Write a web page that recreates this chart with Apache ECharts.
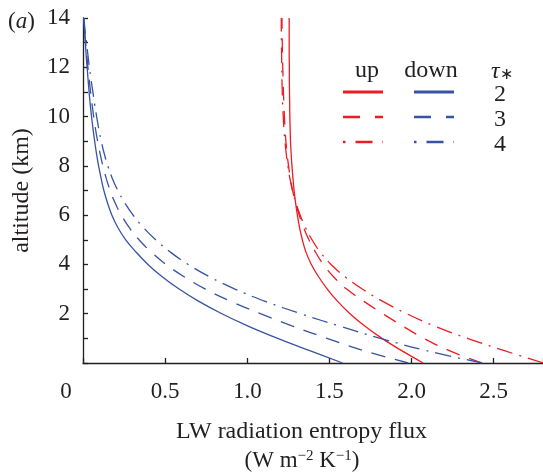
<!DOCTYPE html>
<html>
<head>
<meta charset="utf-8">
<script src="https://cdn.jsdelivr.net/npm/echarts@6/dist/echarts.min.js"></script>
<style>
html,body{margin:0;padding:0;background:#fff;}
#chart{width:543px;height:475px;}
</style>
</head>
<body>
<div id="chart"></div>
<script>
// altitude (km) at which each flux value was read
const altitude = [0, 0.5, 1, 1.5, 2, 2.5, 3, 3.5, 4, 4.5, 5, 5.5, 6, 6.5, 7, 7.5, 8, 8.5, 9, 9.5, 10, 10.5, 11, 11.5, 12, 12.5, 13, 13.5, 14];
// upward LW entropy flux, tau* = 2, 3, 4
const upT2 = [2.07, 1.94, 1.82, 1.715, 1.625, 1.55, 1.487, 1.434, 1.39, 1.357, 1.335, 1.318, 1.305, 1.294, 1.285, 1.278, 1.272, 1.267, 1.263, 1.261, 1.259, 1.258, 1.257, 1.256, 1.256, 1.255, 1.255, 1.255, 1.255];
const upT3 = [2.43, 2.23, 2.075, 1.945, 1.825, 1.71, 1.605, 1.525, 1.463, 1.415, 1.375, 1.343, 1.316, 1.294, 1.276, 1.262, 1.251, 1.242, 1.235, 1.23, 1.226, 1.223, 1.22, 1.218, 1.216, 1.214, 1.213, 1.212, 1.211];
const upT4 = [2.80, 2.565, 2.34, 2.14, 1.97, 1.825, 1.70, 1.595, 1.51, 1.444, 1.394, 1.354, 1.322, 1.296, 1.275, 1.259, 1.247, 1.237, 1.229, 1.223, 1.219, 1.215, 1.213, 1.211, 1.21, 1.209, 1.208, 1.207, 1.207];
// downward LW entropy flux, tau* = 2, 3, 4
const downT2 = [1.58, 1.38, 1.185, 1.005, 0.845, 0.705, 0.585, 0.482, 0.395, 0.323, 0.26, 0.212, 0.176, 0.149, 0.127, 0.11, 0.095, 0.082, 0.071, 0.061, 0.052, 0.044, 0.037, 0.031, 0.025, 0.019, 0.014, 0.009, 0.004];
const downT3 = [1.98, 1.71, 1.485, 1.275, 1.08, 0.90, 0.745, 0.615, 0.505, 0.415, 0.341, 0.281, 0.233, 0.195, 0.165, 0.141, 0.121, 0.104, 0.089, 0.076, 0.065, 0.055, 0.046, 0.038, 0.03, 0.023, 0.016, 0.01, 0.004];
const downT4 = [2.43, 2.09, 1.81, 1.56, 1.325, 1.11, 0.925, 0.77, 0.64, 0.532, 0.442, 0.367, 0.305, 0.254, 0.212, 0.178, 0.151, 0.129, 0.111, 0.096, 0.083, 0.071, 0.06, 0.049, 0.039, 0.03, 0.021, 0.013, 0.005];
const tauLabels = ['2', '3', '4'];
const xTicks = [0, 0.5, 1.0, 1.5, 2.0, 2.5];

const RED = '#ed1c24', BLUE = '#3953a4', INK = '#231f20';
const FONT = '"Liberation Serif", "Times New Roman", serif';
const DASH = [14, 10];
const DASHDOT = [16, 7, 2, 7];

function pts(xs) { return altitude.map((a, i) => [xs[i], a]); }
function mk(name, xs, color, type) {
  return {
    name, type: 'line', data: pts(xs), showSymbol: false, symbol: 'none',
    smooth: 0.4, clip: true,
    lineStyle: { color, width: 1.3, type }
  };
}

const chart = echarts.init(document.getElementById('chart'), null, { renderer: 'canvas' });

// legend drawing (decoration)
const legendRows = [92, 117, 142];
const legendDash = [null, [17, 15], [2.5, 10, 17, 10]];
const g = [];
legendRows.forEach((y, i) => {
  [[343, RED], [414, BLUE]].forEach(([x0, c]) => {
    g.push({ type: 'line', shape: { x1: x0, y1: y, x2: x0 + 40, y2: y },
      style: { stroke: c, lineWidth: i === 0 ? 3 : 2.5, lineDash: legendDash[i] } });
  });
  g.push({ type: 'text', x: 500, y: y + 3, style: { text: tauLabels[i], font: '24px ' + FONT, fill: INK, align: 'center', verticalAlign: 'middle' } });
});
g.push({ type: 'text', x: 367, y: 71, style: { text: 'up', font: '24px ' + FONT, fill: INK, align: 'center', verticalAlign: 'middle' } });
g.push({ type: 'text', x: 431, y: 71, style: { text: 'down', font: '24px ' + FONT, fill: INK, align: 'center', verticalAlign: 'middle' } });
g.push({ type: 'text', x: 491, y: 72, style: {
  text: '{t|τ}{s|∗}', fill: INK, verticalAlign: 'middle',
  rich: { t: { font: 'italic 24px ' + FONT, fill: INK }, s: { font: '16px ' + FONT, fill: INK, padding: [6, 0, 0, 0] } } } });
g.push({ type: 'text', x: 8, y: 22, style: {
  text: '{n|(}{i|a}{n|)}', verticalAlign: 'middle',
  rich: { n: { font: '23px ' + FONT, fill: INK }, i: { font: 'italic 23px ' + FONT, fill: INK } } } });
g.push({ type: 'text', x: 302, y: 461, style: {
  text: '{n|(W m}{s|−2}{n| K}{s|−1}{n|)}', align: 'center', verticalAlign: 'middle',
  rich: { n: { font: '23px ' + FONT, fill: INK }, s: { font: '15px ' + FONT, fill: INK, padding: [0, 0, 9, 0] } } } });

chart.setOption({
  animation: false,
  backgroundColor: '#fff',
  grid: { left: 83, right: 0, top: 18, bottom: 112, containLabel: false, outerBoundsMode: 'none' },
  xAxis: {
    type: 'value', min: 0, max: 2.8, interval: 0.5,
    name: 'LW radiation entropy flux', nameLocation: 'middle', nameGap: 57,
    nameTextStyle: { fontFamily: FONT, fontSize: 24, color: INK, padding: [0, 23, 0, 0] },
    axisLine: { lineStyle: { color: INK, width: 1.3 } },
    axisTick: { inside: true, length: 5, lineStyle: { color: INK, width: 1.3 } },
    splitLine: { show: false },
    axisLabel: {
      margin: 17, fontFamily: FONT, fontSize: 23, color: INK,
      formatter: v => {
        if (!xTicks.some(t => Math.abs(t - v) < 1e-6)) return '';
        return v === 0 ? '{z|0}' : v.toFixed(1);
      },
      rich: { z: { fontFamily: FONT, fontSize: 23, color: INK, padding: [0, 34, 0, 0] } }
    }
  },
  yAxis: {
    type: 'value', min: 0, max: 14, interval: 1,
    name: 'altitude (km)', nameLocation: 'middle', nameGap: 49, nameRotate: 90,
    nameTextStyle: { fontFamily: FONT, fontSize: 24, color: INK },
    axisLine: { lineStyle: { color: INK, width: 1.3 } },
    axisTick: { inside: true, length: 5, lineStyle: { color: INK, width: 1.3 } },
    splitLine: { show: false },
    axisLabel: {
      margin: 13, fontFamily: FONT, fontSize: 23, color: INK,
      formatter: v => (v > 0 && v % 2 === 0) ? String(v) : ''
    }
  },
  series: [
    mk('up τ=2', upT2, RED, 'solid'),
    mk('up τ=3', upT3, RED, DASH),
    mk('up τ=4', upT4, RED, DASHDOT),
    mk('down τ=2', downT2, BLUE, 'solid'),
    mk('down τ=3', downT3, BLUE, DASH),
    mk('down τ=4', downT4, BLUE, DASHDOT)
  ],
  graphic: g
});
</script>
</body>
</html>
